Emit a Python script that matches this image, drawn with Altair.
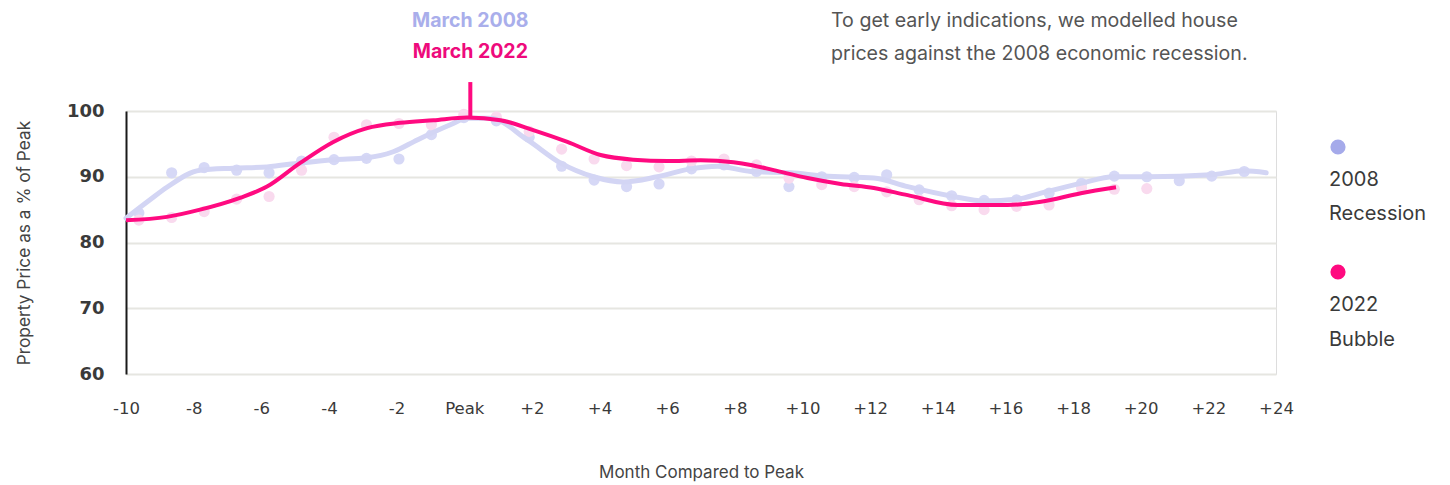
import altair as alt
import pandas as pd

# ---- data ----
dot_month = [-9.62, -8.65, -7.69, -6.73, -5.77, -4.81, -3.85, -2.89, -1.93, -0.97,
             -0.01, 0.95, 1.92, 2.88, 3.84, 4.80, 5.76, 6.72, 7.68, 8.64,
             9.60, 10.57, 11.53, 12.49, 13.45, 14.41, 15.37, 16.33, 17.29, 18.25,
             19.22, 20.18, 21.14, 22.10, 23.06]
dots_2008 = [84.5, 90.6, 91.4, 91.0, 90.6, 92.4, 92.6, 92.8, 92.7, 96.4,
             99.0, 98.5, 96.0, 91.6, 89.5, 88.5, 88.9, 91.2, 91.8, 90.8,
             88.5, 90.0, 89.9, 90.3, 88.0, 87.1, 86.4, 86.5, 87.5, 89.0,
             90.1, 90.0, 89.4, 90.1, 90.8]
dots_2022 = [83.4, 83.8, 84.7, 86.6, 87.0, 91.0, 96.0, 97.9, 98.1, 97.9,
             99.5, 99.1, 96.9, 94.2, 92.7, 91.7, 91.5, 92.4, 92.7, 91.8,
             89.8, 88.8, 88.5, 87.7, 86.5, 85.6, 85.0, 85.5, 85.7, 88.3,
             88.1, 88.2]

line_2008_month = [-10, -9.29, -8.79, -7.81, -6.83, -5.83, -4.85, -3.87, -2.87, -2.10,
                   -1.39, -0.41, 0.09, 0.77, 1.87, 2.84, 3.82, 4.71, 5.71, 6.69,
                   7.49, 8.47, 9.65, 10.63, 12.11, 13.11, 14.47, 15.36, 16.37, 17.05,
                   18.23, 19.21, 20.22, 22.08, 23.06, 23.71]
line_2008_val = [83.7, 86.5, 88.4, 91.0, 91.3, 91.5, 92.1, 92.6, 92.9, 93.8,
                 95.6, 97.9, 98.9, 98.9, 95.6, 92.1, 90.0, 89.2, 90.0, 91.2,
                 91.6, 90.8, 90.6, 90.1, 89.8, 88.5, 87.0, 86.3, 86.6, 87.5,
                 89.0, 90.0, 90.0, 90.3, 90.9, 90.6]

line_2022_month = [-10, -8.79, -7.81, -6.63, -5.83, -4.85, -3.87, -2.87, -1.89, -0.91,
                   0.09, 1.07, 2.04, 3.05, 4.03, 5.00, 6.01, 6.99, 7.96, 8.47,
                   9.15, 10.15, 11.13, 12.11, 13.11, 14.59, 16.07, 17.05, 18.23, 19.27]
line_2022_val = [83.4, 83.9, 85.0, 86.8, 88.5, 92.1, 95.3, 97.4, 98.2, 98.6,
                 99.0, 98.6, 97.1, 95.3, 93.3, 92.6, 92.4, 92.5, 92.2, 91.8,
                 91.0, 89.8, 88.9, 88.3, 87.2, 85.7, 85.7, 86.2, 87.5, 88.4]

x_ticks = list(range(-10, 25, 2))
x_tick_labels = ["-10", "-8", "-6", "-4", "-2", "Peak", "+2", "+4", "+6", "+8",
                 "+10", "+12", "+14", "+16", "+18", "+20", "+22", "+24"]
y_ticks = [60, 70, 80, 90, 100]

peak_month = 0.18
peak_rule = [99.1, 104.4]

note_lines = ["To get early indications, we modelled house",
              "prices against the 2008 economic recession."]
legend_2008 = ["2008", "Recession"]
legend_2022 = ["2022", "Bubble"]

# ---- styles ----
C_BLUE_LINE = "#D3D5F4"
C_BLUE_DOT = "#D6D8F6"
C_PINK_LINE = "#FF0A80"
C_PINK_DOT = "#F9DAEE"
C_BLUE_LEG = "#A5AAEA"
C_TEXT = "#3a3a3a"
FONT = "Inter"

W, H = 1150, 263

label_expr = " : ".join(
    f"datum.value == {v} ? '{l}'" for v, l in zip(x_ticks, x_tick_labels)
) + " : ''"

x_scale = alt.Scale(domain=[-10, 24], nice=False, zero=False)
y_scale = alt.Scale(domain=[60, 100], nice=False, zero=False)

x_axis = alt.Axis(values=x_ticks, labelExpr=label_expr, grid=False, domain=False,
                  ticks=False, tickSize=0, labelPadding=26, labelFontSize=16.5,
                  labelFlush=False, labelOverlap=False,
                  labelFont="DejaVu Sans", labelColor="#3a3a3a", labelFontWeight="normal",
                  title="Month Compared to Peak", titleFont=FONT, titleFontSize=17,
                  titleFontWeight="normal", titleColor="#444444",
                  titleY=98, titleBaseline="middle")
y_axis = alt.Axis(values=y_ticks, grid=True, gridColor="#E6E6E1", gridWidth=2,
                  domain=True, domainColor="#1a1a1a", domainWidth=2, ticks=False,
                  tickSize=0, labelPadding=22, labelFontSize=18, labelFontWeight="bold",
                  labelFlush=False,
                  labelFont="DejaVu Sans", labelColor=C_TEXT,
                  title="Property Price as a % of Peak", titleFont=FONT,
                  titleFontSize=17.3, titleFontWeight="normal", titleColor="#444444",
                  titleAngle=270, titleX=-102, titleY=H / 2, titleAlign="center",
                  titleBaseline="middle")

df_d08 = pd.DataFrame({"month": dot_month[:len(dots_2008)], "value": dots_2008})
df_d22 = pd.DataFrame({"month": dot_month[:len(dots_2022)], "value": dots_2022})
df_l08 = pd.DataFrame({"month": line_2008_month, "value": line_2008_val})
df_l22 = pd.DataFrame({"month": line_2022_month, "value": line_2022_val})

dots08 = alt.Chart(df_d08).mark_circle(size=125, opacity=1, color=C_BLUE_DOT).encode(
    x=alt.X("month:Q", scale=x_scale, axis=x_axis),
    y=alt.Y("value:Q", scale=y_scale, axis=y_axis),
)
dots22 = alt.Chart(df_d22).mark_circle(size=125, opacity=1, color=C_PINK_DOT).encode(
    x=alt.X("month:Q", scale=x_scale), y=alt.Y("value:Q", scale=y_scale))
line08 = alt.Chart(df_l08).mark_line(color=C_BLUE_LINE, strokeWidth=5,
                                     interpolate="monotone", strokeCap="round").encode(
    x=alt.X("month:Q", scale=x_scale), y=alt.Y("value:Q", scale=y_scale))
line22 = alt.Chart(df_l22).mark_line(color=C_PINK_LINE, strokeWidth=4,
                                     interpolate="monotone").encode(
    x=alt.X("month:Q", scale=x_scale), y=alt.Y("value:Q", scale=y_scale))

df_rule = pd.DataFrame({"month": [peak_month], "y1": [peak_rule[0]], "y2": [peak_rule[1]]})
rule = alt.Chart(df_rule).mark_rule(color=C_PINK_LINE, strokeWidth=4).encode(
    x=alt.X("month:Q", scale=x_scale), y=alt.Y("y1:Q", scale=y_scale), y2="y2:Q")

df_peak = pd.DataFrame({"month": [peak_month]})
m08 = alt.Chart(df_peak).mark_text(text="March 2008", font=FONT, fontSize=19.5,
                                   fontWeight="bold", color="#A9AEEB",
                                   baseline="middle", align="center").encode(
    x=alt.X("month:Q", scale=x_scale), y=alt.value(-90))
m22 = alt.Chart(df_peak).mark_text(text="March 2022", font=FONT, fontSize=19.5,
                                   fontWeight="bold", color="#EE0A7C",
                                   baseline="middle", align="center").encode(
    x=alt.X("month:Q", scale=x_scale), y=alt.value(-59))

layers = [dots08, dots22, line08, line22, rule, m08, m22]

base_txt = alt.Chart(df_peak)
for i, t in enumerate(note_lines):
    layers.append(base_txt.mark_text(text=t, font=FONT, fontSize=19.6, color="#555555",
                                     align="left", baseline="middle").encode(
        x=alt.value(705), y=alt.value(-90 + 33 * i)))

# legend
layers.append(base_txt.mark_point(filled=True, size=230, opacity=1, color=C_BLUE_LEG,
                                  shape="circle").encode(x=alt.value(1212), y=alt.value(36)))
layers.append(base_txt.mark_point(filled=True, size=230, opacity=1, color=C_PINK_LINE,
                                  shape="circle").encode(x=alt.value(1212), y=alt.value(161)))
for i, t in enumerate(legend_2008):
    layers.append(base_txt.mark_text(text=t, font=FONT, fontSize=20, color=C_TEXT,
                                     align="left", baseline="middle").encode(
        x=alt.value(1203), y=alt.value(69 + 34 * i)))
for i, t in enumerate(legend_2022):
    layers.append(base_txt.mark_text(text=t, font=FONT, fontSize=20, color=C_TEXT,
                                     align="left", baseline="middle").encode(
        x=alt.value(1203), y=alt.value(194 + 35 * i)))

chart = alt.layer(*layers).properties(
    width=W, height=H,
    autosize=alt.AutoSizeParams(type="none"),
    padding={"left": 118, "top": 103, "right": 160, "bottom": 108},
).configure_view(stroke=None).configure(background="white")

chart.save("out.html", embed_options={"renderer": "svg", "actions": False})
